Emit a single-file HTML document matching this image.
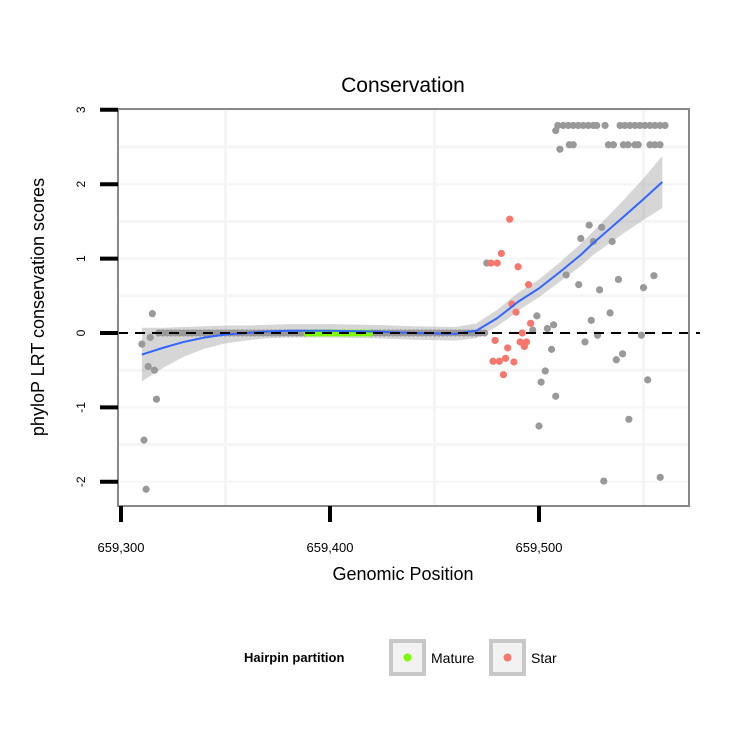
<!DOCTYPE html>
<html><head><meta charset="utf-8"><style>
body{margin:0;background:#fff;font-family:"Liberation Sans",sans-serif}
svg text{font-family:"Liberation Sans",sans-serif}
</style></head><body>
<svg id="c" width="750" height="750" xmlns="http://www.w3.org/2000/svg">
<rect width="750" height="750" fill="#fff"/>
<text x="403" y="92" text-anchor="middle" font-size="21">Conservation</text>
<g id="plot"></g>
<text x="403" y="580" text-anchor="middle" font-size="18">Genomic Position</text>
<text transform="translate(44,307) rotate(-90)" text-anchor="middle" font-size="18">phyloP LRT conservation scores</text>
<g>
<text x="244" y="662" font-size="13" font-weight="bold">Hairpin partition</text>
<rect x="391" y="641" width="33" height="33" fill="#f2f2f2" stroke="#c8c8c8" stroke-width="4"/>
<circle cx="407.5" cy="657.5" r="4" fill="#7CFC00"/>
<text x="431" y="663" font-size="14">Mature</text>
<rect x="491" y="641" width="33" height="33" fill="#f2f2f2" stroke="#c8c8c8" stroke-width="4"/>
<circle cx="507.5" cy="657.5" r="4" fill="#F8766D"/>
<text x="531" y="663" font-size="14">Star</text>
</g>
</svg>
<script>
const xTicks=[659300,659400,659500];
const xTickLabels=["659,300","659,400","659,500"];
const yTicks=[-2,-1,0,1,2,3];
const grayX=[659315,659310,659314,659313,659316,659317,659311,659312,659475,659513,659524,659530,659520,659526,659535,659519,659529,659538,659550,659555,659499,659497,659504,659507,659525,659534,659528,659549,659522,659506,659537,659540,659503,659501,659508,659552,659500,659543,659531,659558,659508,659510,
659509,659511.6,659514,659516.4,659518.8,659521.2,659523.6,659526,659527.6,659531.6,659538.8,659541.1,659543.5,659545.9,659548.3,659550.7,659553.1,659555.5,659557.9,659560.3,
659514.5,659516.4,659533.2,659535.6,659540.4,659542.6,659545.9,659547.5,659553.1,659555.5,659557.9];
const grayY=[0.26,-0.15,-0.06,-0.45,-0.50,-0.89,-1.44,-2.10,0.94,0.78,1.45,1.42,1.27,1.23,1.23,0.65,0.58,0.72,0.61,0.77,0.23,0.04,0.06,0.11,0.17,0.27,-0.03,-0.03,-0.12,-0.22,-0.36,-0.28,-0.51,-0.66,-0.85,-0.63,-1.25,-1.16,-1.99,-1.94,2.72,2.47,
2.79,2.79,2.79,2.79,2.79,2.79,2.79,2.79,2.79,2.79,2.79,2.79,2.79,2.79,2.79,2.79,2.79,2.79,2.79,2.79,
2.53,2.53,2.53,2.53,2.53,2.53,2.53,2.53,2.53,2.53,2.53];
const zeroX=[659318,659320,659322,659324,659326,659328,659330,659332,659334,659336,659338,659340,659342,659344,659346,659348,659350,659352,659354,659356,659358,659360,659362,659364,659366,659368,659370,659372,659374,659376,659378,659380,659382,659384,659386,659388,659420,659422,659424,659426,659428,659430,659432,659434,659436,659438,659440,659442,659444,659446,659448,659450,659452,659454,659456,659458,659460,659462,659464,659466,659468,659470,659472,659474];
const matureX=[659389,659391,659393,659395,659397,659399,659401,659403,659405,659407,659409,659411,659413,659415,659417,659419];
const starX=[659486,659482,659477,659480,659490,659495,659487,659489,659496,659492,659491,659494,659493,659479,659485,659478,659481,659484,659488,659483];
const starY=[1.53,1.07,0.94,0.94,0.89,0.65,0.39,0.28,0.13,0.0,-0.12,-0.12,-0.18,-0.10,-0.20,-0.38,-0.38,-0.34,-0.39,-0.56];
const fitX=[659310,659320,659330,659340,659350,659360,659370,659380,659400,659420,659440,659460,659470,659480,659486,659490,659500,659510,659520,659526,659540,659550,659559];
const fitY=[-0.29,-0.2,-0.12,-0.06,-0.02,0.0,0.02,0.03,0.03,0.02,0.0,-0.01,0.03,0.2,0.33,0.42,0.6,0.82,1.05,1.21,1.55,1.8,2.03];
const fitSE=[0.36,0.27,0.2,0.15,0.12,0.1,0.09,0.09,0.09,0.09,0.09,0.09,0.1,0.11,0.12,0.12,0.12,0.13,0.15,0.16,0.22,0.28,0.35];

const NS="http://www.w3.org/2000/svg";
const P={l:118,r:689,t:109,b:506};
const X=v=>121+(v-659300)*2.09;
const Y=v=>333-v*74.4;
const g=document.getElementById('plot');
function mk(t,a){const e=document.createElementNS(NS,t);for(const k in a)e.setAttribute(k,a[k]);g.appendChild(e);return e;}
let e;
e=mk('rect',{x:P.l,y:P.t,width:P.r-P.l,height:P.b-P.t,fill:'#fff'});


for(let v=-2;v<=3;v+=0.5){e=mk('line',{x1:P.l,x2:P.r,y1:Y(v),y2:Y(v),stroke:'#f5f5f5','stroke-width':v%1===0?2:3});

}
for(let v=659350;v<=659550;v+=100){e=mk('line',{x1:X(v),x2:X(v),y1:P.t,y2:P.b,stroke:'#f5f5f5','stroke-width':3});

}
let up=fitX.map((x,i)=>X(x)+','+Y(fitY[i]+fitSE[i]));
let dn=fitX.map((x,i)=>X(x)+','+Y(fitY[i]-fitSE[i])).reverse();
e=mk('polygon',{points:up.concat(dn).join(' '),fill:'#999',opacity:0.4});


function pt(x,y,c,n){e=mk('circle',{cx:X(x),cy:Y(y),r:3.6,fill:c});

}
zeroX.forEach(x=>pt(x,0,'#999','point-other'));
matureX.forEach(x=>pt(x,0,'#7CFC00','point-mature'));
grayX.forEach((x,i)=>pt(x,grayY[i],'#999','point-other'));
starX.forEach((x,i)=>pt(x,starY[i],'#F8766D','point-star'));
e=mk('polyline',{points:fitX.map((x,i)=>X(x)+','+Y(fitY[i])).join(' '),fill:'none',stroke:'#3366FF','stroke-width':2,'stroke-linejoin':'round'});


e=mk('line',{x1:P.l,x2:700,y1:Y(0),y2:Y(0),stroke:'#000','stroke-width':2,'stroke-dasharray':'10,7'});


e=mk('rect',{x:P.l,y:P.t,width:P.r-P.l,height:P.b-P.t,fill:'none',stroke:'#888','stroke-width':2});


yTicks.forEach(v=>{e=mk('line',{x1:100,x2:P.l,y1:Y(v),y2:Y(v),stroke:'#000','stroke-width':4});


const t=mk('text',{transform:`translate(${85},${Y(v)}) rotate(-90)`,'text-anchor':'middle','font-size':12});
t.textContent=v;

});
xTicks.forEach((v,i)=>{e=mk('line',{x1:X(v),x2:X(v),y1:P.b,y2:522,stroke:'#000','stroke-width':4});


const t=mk('text',{x:X(v),y:552,'text-anchor':'middle','font-size':13});
t.textContent=xTickLabels[i];

});
</script>
</body></html>
